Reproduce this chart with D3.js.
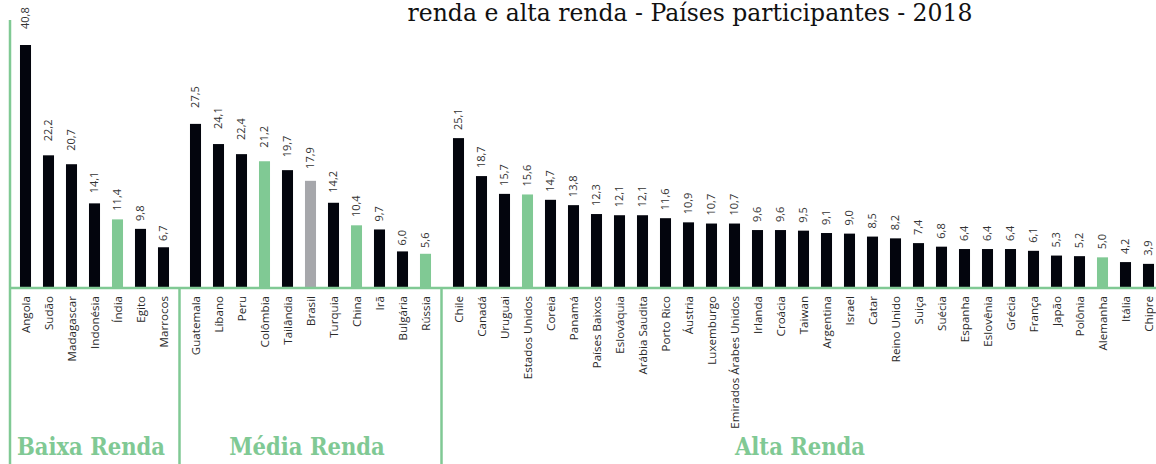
<!DOCTYPE html>
<html>
<head>
<meta charset="utf-8">
<script src="https://cdn.jsdelivr.net/npm/d3@7"></script>
<style>
    body { margin: 0; background: #fff; }
    svg { display: block; }
</style>
</head>
<body>
<script>
// Data: one list of countries and one of values per income group
var lowCountries = ["Angola", "Sudão", "Madagascar", "Indonésia", "Índia", "Egito", "Marrocos"];
var lowValues = [40.8, 22.2, 20.7, 14.1, 11.4, 9.8, 6.7];

var midCountries = ["Guatemala", "Líbano", "Peru", "Colômbia", "Tailândia", "Brasil", "Turquia", "China", "Irã", "Bulgária", "Rússia"];
var midValues = [27.5, 24.1, 22.4, 21.2, 19.7, 17.9, 14.2, 10.4, 9.7, 6.0, 5.6];

var highCountries = ["Chile", "Canadá", "Uruguai", "Estados Unidos", "Coreia", "Panamá", "Países Baixos", "Eslováquia",
    "Arábia Saudita", "Porto Rico", "Áustria", "Luxemburgo", "Emirados Árabes Unidos", "Irlanda", "Croácia", "Taiwan",
    "Argentina", "Israel", "Catar", "Reino Unido", "Suiça", "Suécia", "Espanha", "Eslovênia", "Grécia", "França",
    "Japão", "Polônia", "Alemanha", "Itália", "Chipre"];
var highValues = [25.1, 18.7, 15.7, 15.6, 14.7, 13.8, 12.3, 12.1, 12.1, 11.6, 10.9, 10.7, 10.7, 9.6, 9.6, 9.5,
    9.1, 9.0, 8.5, 8.2, 7.4, 6.8, 6.4, 6.4, 6.4, 6.1, 5.3, 5.2, 5.0, 4.2, 3.9];

var groupNames = ["Baixa Renda", "Média Renda", "Alta Renda"];
var greenCountries = ["Índia", "Colômbia", "China", "Rússia", "Estados Unidos", "Alemanha"];
var greyCountries = ["Brasil"];
var titleLine = "renda e alta renda - Países participantes - 2018";

var width = 1156, height = 464;
var black = "#03050d", green = "#80c994", grey = "#a6a7ab";

var svg = d3.select("body").append("svg")
    .attr("width", width)
    .attr("height", height);

// vertical scale shared by all groups
var y = d3.scaleLinear().domain([0, 40.8]).range([287, 45]);

// comma as decimal separator
var fmt = d3.formatLocale({ decimal: ",", thousands: ".", grouping: [3], currency: ["R$", ""] }).format(".1f");

var groups = [
    { name: groupNames[0], countries: lowCountries, values: lowValues, range: [14, 175], labelGap: function (v) { return Math.min(16, 3 + 0.5 * v); } },
    { name: groupNames[1], countries: midCountries, values: midValues, range: [184, 437], labelGap: function (v) { return Math.min(16, 3 + 0.5 * v); } },
    { name: groupNames[2], countries: highCountries, values: highValues, range: [447, 1160], labelGap: function () { return 8; } }
];

function barColor(c) {
    if (greenCountries.indexOf(c) >= 0) return green;
    if (greyCountries.indexOf(c) >= 0) return grey;
    return black;
}

// title (only its last line is inside the frame)
svg.append("text")
    .attr("x", 690)
    .attr("y", 21)
    .attr("text-anchor", "middle")
    .style("font-family", "'DejaVu Serif', serif")
    .style("font-size", "23.5px")
    .attr("fill", "#111")
    .text(titleLine);

groups.forEach(function (g) {
    var data = g.countries.map(function (c, i) { return { country: c, value: g.values[i] }; });

    var x = d3.scaleBand()
        .domain(g.countries)
        .range(g.range)
        .paddingInner(0.52)
        .paddingOuter(0.26);

    var gr = svg.append("g").attr("class", "group");

    // bars
    gr.selectAll("rect")
        .data(data)
        .enter().append("rect")
        .attr("x", d => x(d.country))
        .attr("y", d => y(d.value))
        .attr("width", x.bandwidth())
        .attr("height", d => y(0) - y(d.value))
        .attr("fill", d => barColor(d.country));

    // value labels above the bars
    gr.selectAll("text.value")
        .data(data)
        .enter().append("text")
        .attr("class", "value")
        .attr("transform", d => "translate(" + (x(d.country) + x.bandwidth() / 2) + "," + (y(d.value) - g.labelGap(d.value)) + ") rotate(-90)")
        .attr("dy", "0.35em")
        .style("font-family", "'Open Sans', sans-serif")
        .style("font-size", "11px")
        .attr("fill", "#333")
        .text(d => fmt(d.value));

    // country names under the axis
    gr.selectAll("text.country")
        .data(data)
        .enter().append("text")
        .attr("class", "country")
        .attr("transform", d => "translate(" + (x(d.country) + x.bandwidth() / 2) + ",296) rotate(-90)")
        .attr("dy", "0.35em")
        .attr("text-anchor", "end")
        .style("font-family", "'Open Sans', sans-serif")
        .style("font-size", "11.6px")
        .attr("fill", "#2a2a2a")
        .text(d => d.country);
});

// frame lines
svg.append("line")
    .attr("x1", 10).attr("x2", width)
    .attr("y1", 288).attr("y2", 288)
    .attr("stroke", green).attr("stroke-width", 2.5);

svg.append("line")
    .attr("x1", 10).attr("x2", 10)
    .attr("y1", 20).attr("y2", height)
    .attr("stroke", green).attr("stroke-width", 2.5);

[179.5, 441.5].forEach(function (xp) {
    svg.append("line")
        .attr("x1", xp).attr("x2", xp)
        .attr("y1", 288).attr("y2", height)
        .attr("stroke", green).attr("stroke-width", 2.5);
});

// group names
var groupCenters = [91, 307, 800];
svg.selectAll("text.groupname")
    .data(groupNames)
    .enter().append("text")
    .attr("class", "groupname")
    .attr("x", (d, i) => groupCenters[i])
    .attr("y", 455)
    .attr("text-anchor", "middle")
    .style("font-family", "'DejaVu Serif', serif")
    .style("font-weight", "bold")
    .style("font-stretch", "condensed")
    .style("font-size", "23.5px")
    .attr("fill", green)
    .text(d => d);
</script>
</body>
</html>
